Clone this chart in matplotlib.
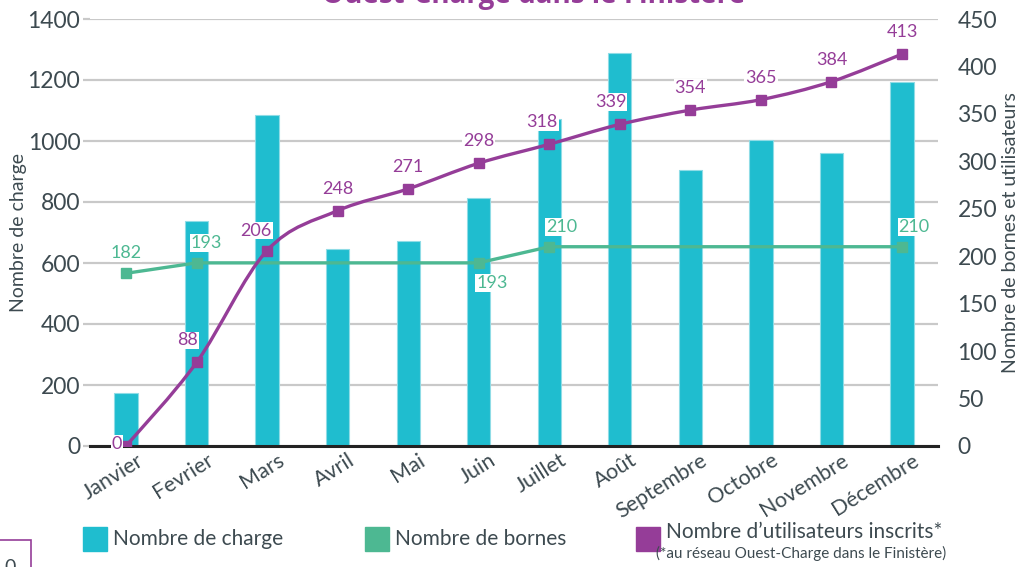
import matplotlib

matplotlib.use("Agg")
import matplotlib.pyplot as plt
import matplotlib.transforms as mtransforms
from matplotlib.path import Path
from matplotlib.patches import PathPatch, Rectangle

MONTHS = ["Janvier", "Fevrier", "Mars", "Avril", "Mai", "Juin", "Juillet",
          "Août", "Septembre", "Octobre", "Novembre", "Décembre"]
CHARGES = [174, 738, 1085, 647, 672, 813, 1072, 1289, 905, 1003, 961, 1193]
BORNES = [182, 193, 193, 193, 193, 193, 210, 210, 210, 210, 210, 210]
BORNES_SHOWN = [0, 1, 5, 6, 11]  # months where the borne count is marked
USERS = [0, 88, 206, 248, 271, 298, 318, 339, 354, 365, 384, 413]

CYAN = "#1fbdcf"
GREEN = "#4db892"
PURPLE = "#953d98"
TEXT = "#3d4a50"
GRID = "#c9c9c9"

plt.rcParams["font.family"] = ["Lato", "DejaVu Sans"]

fig = plt.figure(figsize=(10.2, 5.67), dpi=100)
ax = fig.add_axes([90 / 1020, 121 / 567, 848 / 1020, 427 / 567])
ax2 = ax.twinx()

x = list(range(len(MONTHS)))

# ---- bars (left axis) ----------------------------------------------------
ax.bar(x, CHARGES, width=0.33, color=CYAN, edgecolor="#8fdce6", lw=0.8, zorder=2)
ax.set_xlim(-0.51, 11.51)
ax.set_ylim(0, 1400)
ax.set_yticks(range(0, 1401, 200))
ax.grid(axis="y", color=GRID, lw=1.6, zorder=0)
ax.set_axisbelow(True)
for s in ("top", "right", "left"):
    ax.spines[s].set_visible(False)
ax.spines["bottom"].set_color("#222222")
ax.spines["bottom"].set_linewidth(2.2)
ax.tick_params(axis="y", length=5, width=1.6, color=GRID, pad=2,
               labelsize=16.5, labelcolor=TEXT)
ax.set_xticks(x)
ax.set_xticklabels(MONTHS, rotation=32, ha="right", va="top",
                   rotation_mode="anchor", fontsize=15.5, color=TEXT)
ax.tick_params(axis="x", length=0, pad=3)
shift = mtransforms.ScaledTranslation(10 / 100, 0, fig.dpi_scale_trans)
for lbl in ax.get_xticklabels():
    lbl.set_transform(lbl.get_transform() + shift)
ax.set_ylabel("Nombre de charge", fontsize=14, color=TEXT)
ax.yaxis.set_label_coords(-0.074, 0.5)

# ---- right axis: bornes + utilisateurs -----------------------------------
ax2.set_ylim(0, 450)
ax2.set_yticks(range(0, 451, 50))
for s in ("top", "right", "left", "bottom"):
    ax2.spines[s].set_visible(False)
ax2.tick_params(axis="y", length=0, pad=14, labelsize=16.5, labelcolor=TEXT)
ax2.set_ylabel("Nombre de bornes et utilisateurs", fontsize=14, color=TEXT)
ax2.yaxis.set_label_coords(1.076, 0.5)

ax2.plot(x, BORNES, color=GREEN, lw=2.4, marker="s", ms=7,
         markevery=BORNES_SHOWN, zorder=4)

# smooth curve through the user counts (Catmull-Rom as cubic Bezier)
pts = list(zip(x, USERS))
verts = [pts[0]]
codes = [Path.MOVETO]
for i in range(len(pts) - 1):
    p0 = pts[max(i - 1, 0)]
    p1 = pts[i]
    p2 = pts[i + 1]
    p3 = pts[min(i + 2, len(pts) - 1)]
    c1 = (p1[0] + (p2[0] - p0[0]) / 6, p1[1] + (p2[1] - p0[1]) / 6)
    c2 = (p2[0] - (p3[0] - p1[0]) / 6, p2[1] - (p3[1] - p1[1]) / 6)
    verts += [c1, c2, p2]
    codes += [Path.CURVE4] * 3
ax2.add_patch(PathPatch(Path(verts, codes), fill=False, edgecolor=PURPLE,
                        lw=2.4, zorder=5, transform=ax2.transData))
ax2.plot(x, USERS, ls="none", color=PURPLE, marker="s", ms=7, zorder=6)

box = dict(facecolor="white", edgecolor="none", pad=0.6)

# purple value labels (pixel offsets)
user_off = [(-9, 2), (-9, 14), (-11, 12), (0, 14), (0, 14), (0, 14),
            (-7, 14), (-9, 14), (0, 14), (0, 14), (0, 14), (0, 14)]
for xi, v, (dx, dy) in zip(x, USERS, user_off):
    ax2.annotate(str(v), (xi, v), xytext=(dx, dy), textcoords="offset pixels",
                 ha="center", va="bottom" if dy > 5 else "center",
                 fontsize=13, color=PURPLE, bbox=box, zorder=7)

# green value labels
borne_off = {0: (0, 12), 1: (10, 12), 5: (13, -12), 6: (12, 12), 11: (12, 12)}
for i in BORNES_SHOWN:
    dx, dy = borne_off[i]
    ax2.annotate(str(BORNES[i]), (x[i], BORNES[i]), xytext=(dx, dy),
                 textcoords="offset pixels", ha="center",
                 va="bottom" if dy > 0 else "top",
                 fontsize=13, color=GREEN, bbox=box, zorder=7)

# ---- title (cropped at the top in the source) ----------------------------
fig.text(534 / 1020, 1 - 3 / 567, "Ouest-Charge dans le Finistère",
         ha="center", va="baseline", fontsize=20, fontweight="bold",
         color=PURPLE, family=["Open Sans", "DejaVu Sans"])

# ---- legend --------------------------------------------------------------
W, H = 1020, 567
legend = [(83, CYAN, "Nombre de charge"),
          (365, GREEN, "Nombre de bornes"),
          (636, PURPLE, "Nombre d\u2019utilisateurs inscrits*")]
for lx, col, txt in legend:
    fig.patches.append(Rectangle((lx / W, 1 - 551 / H), 24 / W, 24 / H,
                                 transform=fig.transFigure, color=col))
    ty = 532 if col == PURPLE else 539
    fig.text((lx + 30) / W, 1 - ty / H, txt, ha="left", va="center",
             fontsize=15, color=TEXT)
fig.text(656 / W, 1 - 553 / H, "(*au réseau Ouest-Charge dans le Finistère)",
         ha="left", va="center", fontsize=11, color=TEXT)

# page-number frame peeking in at the bottom left
fig.patches.append(Rectangle((-5 / W, -5 / H), 36 / W, 32 / H,
                             transform=fig.transFigure, fill=False,
                             edgecolor=PURPLE, lw=1.2))
fig.text(4 / W, 1 - 559 / H, "0", ha="left", va="top", fontsize=14, color=TEXT)

fig.savefig("out.png", dpi=100)
